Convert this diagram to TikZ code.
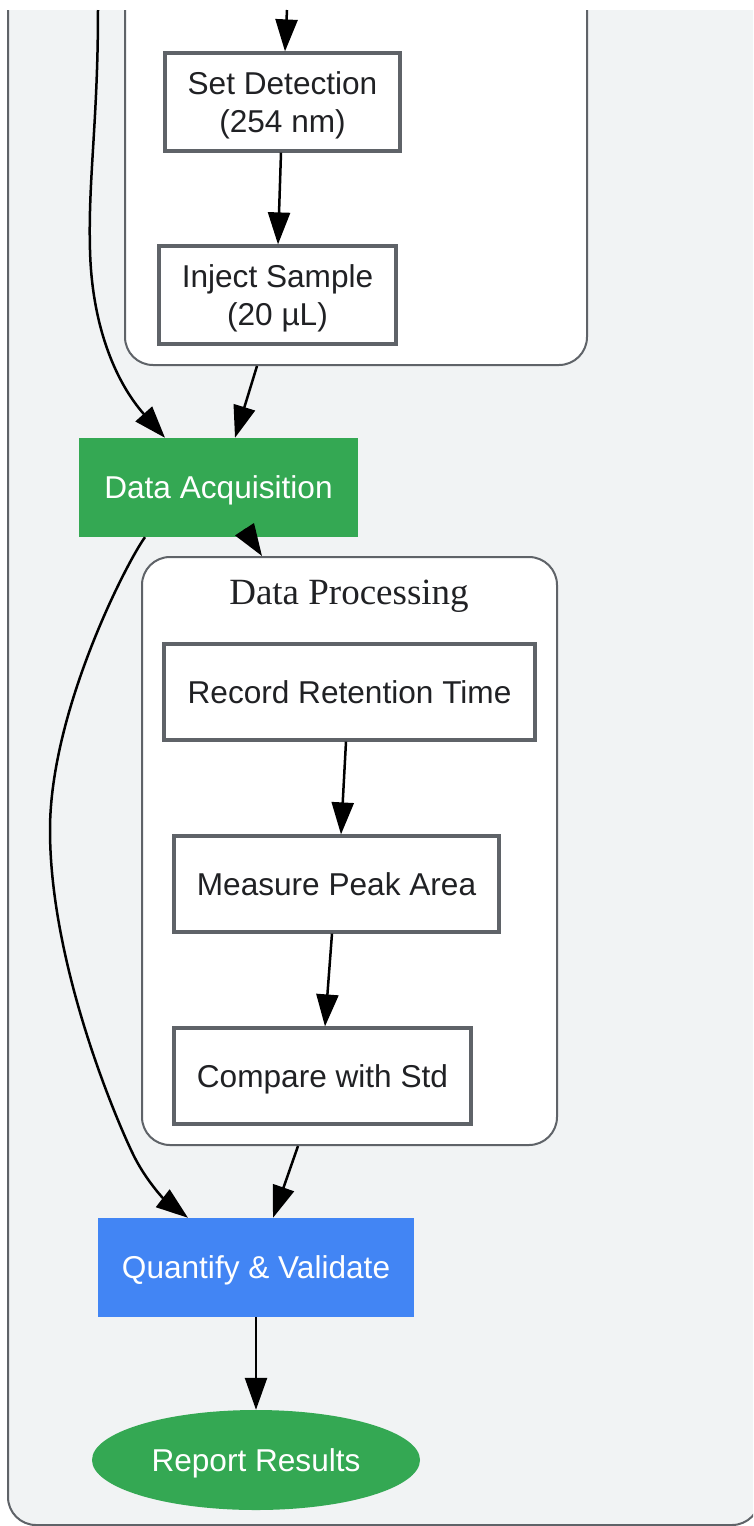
\documentclass[tikz,border=0pt]{standalone}
\usepackage{fontspec}
\setmainfont{Liberation Sans}
\newfontfamily\titlefont{Liberation Serif}
\usetikzlibrary{arrows.meta,shapes.geometric}
\definecolor{clgray}{HTML}{F1F3F4}
\definecolor{bordergray}{HTML}{5F6368}
\definecolor{txt}{HTML}{202124}
\definecolor{gg}{HTML}{34A853}
\definecolor{gb}{HTML}{4285F4}
\tikzset{
  cluster/.style={draw=bordergray, line width=2pt, rounded corners=28pt, inner sep=0pt},
  box/.style={draw=bordergray, line width=3.2pt, fill=white, text=txt, font=\fontsize{31.6}{38}\selectfont, align=center, inner sep=0pt, text depth=0pt},
  filled/.style={draw=none, text=white, font=\fontsize{31.6}{38}\selectfont, align=center, inner sep=0pt, text depth=0pt},
  edge/.style={line width=2.5pt, -{Triangle[length=32pt,width=22pt]}},
}
\begin{document}
\begin{tikzpicture}[x=1pt,y=-1pt]
\fill[white] (0,0) rectangle (753,1526);
\useasboundingbox (0,0) rectangle (753,1526);
\begin{scope}
  \clip (0,10) rectangle (753,1526);
  \node[cluster, fill=clgray, minimum width=752pt, minimum height=1565pt] (outer) at (384,742.5) {};
  \node[cluster, fill=white, minimum width=462pt, minimum height=415pt] (topc) at (356,157.5) {};
\end{scope}
\node[cluster, fill=white, minimum width=415pt, minimum height=588pt] (dp) at (349.5,851) {};
\node[font=\titlefont\fontsize{37}{44}\selectfont, text=txt, text depth=0pt] (dpt) at (349,592) {Data Processing};

\node[box, minimum width=235pt, minimum height=98pt] (sd) at (282.5,102) {Set Detection\\(254 nm)};
\node[box, minimum width=237pt, minimum height=98pt] (inj) at (277.5,295) {Inject Sample\\(20 µL)};
\node[filled, fill=gg, minimum width=279pt, minimum height=99pt] (da) at (218.5,487.5) {Data Acquisition};
\node[box, minimum width=371pt, minimum height=96pt] (rrt) at (349.5,692) {Record Retention Time};
\node[box, minimum width=325pt, minimum height=96pt] (mpa) at (336.5,884) {Measure Peak Area};
\node[box, minimum width=297pt, minimum height=96pt] (cws) at (322.5,1076) {Compare with Std};
\node[filled, fill=gb, minimum width=316pt, minimum height=99pt] (qv) at (256,1267.5) {Quantify \& Validate};
\node[filled, ellipse, fill=gg, minimum width=328pt, minimum height=100pt] (rr) at (256,1460) {Report Results};

\coordinate (topin) at (287,10);
\coordinate (leftin) at (98,10);

\draw[edge] (topin) -- ([xshift=2.5pt]sd.north);
\draw[edge] ([xshift=-1.5pt]sd.south) -- ([xshift=0.5pt]inj.north);
\draw[edge] ([xshift=-99pt]topc.south) -- ([xshift=16.5pt]da.north);
\draw[edge] (leftin) .. controls (98,120) and (88,180) .. (90,250)
  .. controls (92,330) and (118,385) .. ([xshift=-53.5pt]da.north);
\draw[edge] ([xshift=26pt,yshift=8pt]da.south) -- ([xshift=-87.5pt]dp.north);
\draw[edge] ([xshift=-3.5pt]rrt.south) -- ([xshift=4.5pt]mpa.north);
\draw[edge] ([xshift=-4.5pt]mpa.south) -- ([xshift=2.5pt]cws.north);
\draw[edge] ([xshift=-51.5pt]dp.south) -- ([xshift=17pt]qv.north);
\draw[edge] ([xshift=-73.5pt]da.south) .. controls (128,560) and (50,710) .. (50,830)
  .. controls (50,960) and (112,1110) .. (132,1152)
  .. controls (145,1180) and (165,1200) .. ([xshift=-68pt]qv.north);
\draw[edge] (qv.south) -- (rr.north);
\end{tikzpicture}
\end{document}
